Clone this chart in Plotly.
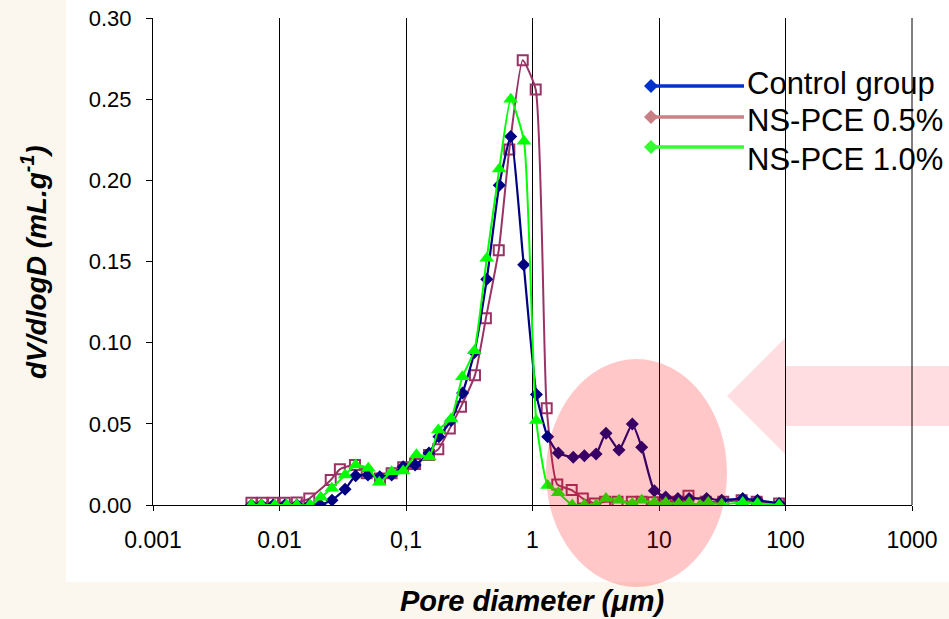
import plotly.graph_objects as go

# ---------------- data ----------------
diam_ctrl = [0.006, 0.0072, 0.0089, 0.011, 0.0137, 0.0172, 0.021, 0.026, 0.033, 0.040,
             0.050, 0.062, 0.077, 0.095, 0.118, 0.152, 0.182, 0.227, 0.28, 0.347,
             0.435, 0.546, 0.673, 0.852, 1.074, 1.318, 1.6, 2.10, 2.57, 3.18,
             3.81, 4.83, 6.15, 7.30, 9.18, 11.3, 14.1, 17.3, 23.8, 31.3,
             45.9, 60, 89]
dv_ctrl = [0, 0, 0, 0, 0, 0, 0, 0.003, 0.0097, 0.018,
           0.0185, 0.0174, 0.0185, 0.0236, 0.0246, 0.032, 0.042, 0.052, 0.069, 0.094,
           0.139, 0.197, 0.227, 0.148, 0.068, 0.042, 0.032, 0.0294, 0.0304, 0.0314,
           0.0442, 0.0339, 0.0499, 0.0355, 0.0088, 0.005, 0.004, 0.004, 0.004, 0.003,
           0.004, 0.003, 0.001]

diam_p05 = [0.006, 0.0073, 0.0089, 0.011, 0.0137, 0.0172, 0.0254, 0.030, 0.0395, 0.0489,
            0.0623, 0.077, 0.095, 0.118, 0.152, 0.18, 0.222, 0.272, 0.351, 0.428,
            0.541, 0.656, 0.837, 1.06, 1.295, 1.57, 2.04, 2.5, 3.1, 3.75,
            4.7, 6.1, 7.3, 9.0, 11.3, 14.1, 17.1, 23.4, 32.2, 45,
            59.2, 89]
dv_p05 = [0.0014, 0.0014, 0.0014, 0.0014, 0.0016, 0.004, 0.0154, 0.022, 0.0246, 0.0195,
          0.0164, 0.0195, 0.0232, 0.0253, 0.0308, 0.0343, 0.0472, 0.0606, 0.080, 0.115,
          0.157, 0.219, 0.274, 0.256, 0.0596, 0.0127, 0.0092, 0.004, 0.001, 0.002,
          0.002, 0.002, 0.002, 0.0017, 0.002, 0.002, 0.0057, 0.002, 0.002, 0.003,
          0.002, 0.001]

diam_p10 = [0.006, 0.0072, 0.0092, 0.0114, 0.0137, 0.0174, 0.0212, 0.0259, 0.033, 0.040,
            0.0504, 0.0615, 0.077, 0.095, 0.121, 0.153, 0.18, 0.227, 0.279, 0.347,
            0.435, 0.546, 0.673, 0.857, 1.07, 1.318, 1.6, 2.06, 2.57, 3.18,
            3.81, 4.83, 6.15, 7.3, 9.18, 11.3, 14.3, 17.3, 21.1, 24.5,
            31.3, 45.9, 60, 89]
dv_p10 = [0, 0, 0, 0, 0, 0, 0.0047, 0.0103, 0.0185, 0.0246,
          0.0226, 0.0140, 0.0205, 0.021, 0.031, 0.0296, 0.0462, 0.053, 0.079, 0.095,
          0.152, 0.207, 0.250, 0.224, 0.052, 0.012, 0.0076, 0, 0, 0,
          0.004, 0.003, 0.001, 0.003, 0.0015, 0.0015, 0.001, 0.0015, 0, 0.0015,
          0.0005, 0.0015, 0.001, 0]

series_names = ["Control group", "NS-PCE 0.5%", "NS-PCE 1.0%"]
x_tick_vals = [0.001, 0.01, 0.1, 1, 10, 100, 1000]
x_tick_text = ["0.001", "0.01", "0,1", "1", "10", "100", "1000"]
y_tick_vals = [0.0, 0.05, 0.10, 0.15, 0.20, 0.25, 0.30]

# ---------------- layout geometry ----------------
W, H = 949, 619
L, R, T, B = 153, 37, 18, 114
PW, PH = W - L - R, H - T - B


def px(x):
    return (x - L) / PW


def py(y):
    return (H - B - y) / PH


FONT = "Liberation Sans, Arial, sans-serif"
CREAM = "#FBF7EF"

fig = go.Figure()

fig.add_trace(go.Scatter(
    x=diam_p05, y=dv_p05, mode="lines+markers", name=series_names[1], showlegend=False,
    line=dict(color="#993366", width=2, shape="spline", smoothing=0.5),
    marker=dict(symbol="square-open", size=10, color="#993366", line=dict(width=2, color="#993366")),
))
fig.add_trace(go.Scatter(
    x=diam_ctrl, y=dv_ctrl, mode="lines+markers", name=series_names[0], showlegend=False,
    line=dict(color="#000080", width=2.2, shape="spline", smoothing=0.5),
    marker=dict(symbol="diamond", size=10, color="#000080"),
))
fig.add_trace(go.Scatter(
    x=diam_p10, y=dv_p10, mode="lines+markers", name=series_names[2], showlegend=False,
    line=dict(color="#00FF00", width=2, shape="spline", smoothing=0.5),
    marker=dict(symbol="triangle-up", size=13, color="#00FF00"),
))

shapes = []
# white panel on cream page
shapes.append(dict(type="rect", xref="paper", yref="paper",
                   x0=px(66), x1=px(960), y0=py(582), y1=py(-10),
                   fillcolor="white", line=dict(width=0), layer="below"))
# pale arrow pointing left
arrow_pts = [(727, 396), (786, 337), (786, 366), (960, 366), (960, 426), (786, 426), (786, 455)]
path = "M " + " L ".join(f"{px(a):.4f},{py(b):.4f}" for a, b in arrow_pts) + " Z"
shapes.append(dict(type="path", xref="paper", yref="paper", path=path,
                   fillcolor="#FFDDE0", line=dict(width=0), layer="below"))
# right-edge gridline (1000)
shapes.append(dict(type="line", xref="paper", yref="paper", x0=1, x1=1, y0=0, y1=1,
                   line=dict(color="black", width=1), layer="below"))
# translucent highlight ellipse
shapes.append(dict(type="circle", xref="paper", yref="paper",
                   x0=px(546), x1=px(727), y0=py(587), y1=py(359),
                   fillcolor="rgba(255,0,0,0.22)", line=dict(width=0), layer="above"))

# manual legend
leg_cols = ["#0033CC", "#C98084", "#33FF33"]
leg_line_y = [86, 117, 147]
leg_text_y = [83, 121, 159]
annotations = []
for name, col, ly, ty in zip(series_names, leg_cols, leg_line_y, leg_text_y):
    shapes.append(dict(type="line", xref="paper", yref="paper",
                       x0=px(651), x1=px(744), y0=py(ly), y1=py(ly),
                       line=dict(color=col, width=3.5), layer="above"))
    shapes.append(dict(type="path", xref="paper", yref="paper",
                       xsizemode="pixel", ysizemode="pixel",
                       xanchor=px(651), yanchor=py(ly),
                       path="M -7,0 L 0,7 L 7,0 L 0,-7 Z",
                       fillcolor=col, line=dict(width=0), layer="above"))
    annotations.append(dict(xref="paper", yref="paper", x=px(745), y=py(ty),
                            xanchor="left", yanchor="middle", showarrow=False,
                            text=name, font=dict(family=FONT, size=31, color="black")))

# axis titles
annotations.append(dict(xref="paper", yref="paper", x=px(532), y=py(601),
                        xanchor="center", yanchor="middle", showarrow=False,
                        text="Pore diameter (<i>\u03bc</i>m)",
                        font=dict(family=FONT, size=29, color="black", weight="bold", style="italic")))
annotations.append(dict(xref="paper", yref="paper", x=px(34), y=py(262),
                        xanchor="center", yanchor="middle", showarrow=False, textangle=-90,
                        text="dV/dlogD (mL.g<sup>-1</sup>)",
                        font=dict(family=FONT, size=28, color="black", weight="bold", style="italic")))

fig.update_layout(
    width=W, height=H,
    margin=dict(l=L, r=R, t=T, b=B, pad=0, autoexpand=False),
    paper_bgcolor=CREAM, plot_bgcolor="white",
    showlegend=False,
    shapes=shapes, annotations=annotations,
    font=dict(family=FONT, color="black"),
    xaxis=dict(type="log", range=[-3, 3], tickvals=x_tick_vals, ticktext=x_tick_text,
               automargin=False,
               showgrid=True, gridcolor="black", gridwidth=1,
               showline=True, linecolor="black", linewidth=1,
               ticks="outside", ticklen=5, tickcolor="black",
               ticklabelstandoff=9,
               tickfont=dict(family=FONT, size=23, color="black")),
    yaxis=dict(range=[0, 0.30], tickvals=y_tick_vals, tickformat=".2f",
               automargin=False,
               showgrid=False, zeroline=False,
               showline=True, linecolor="black", linewidth=1,
               ticks="outside", ticklen=6, tickcolor="black",
               ticklabelstandoff=10,
               tickfont=dict(family=FONT, size=22, color="black")),
)

fig.write_html("out.html")
